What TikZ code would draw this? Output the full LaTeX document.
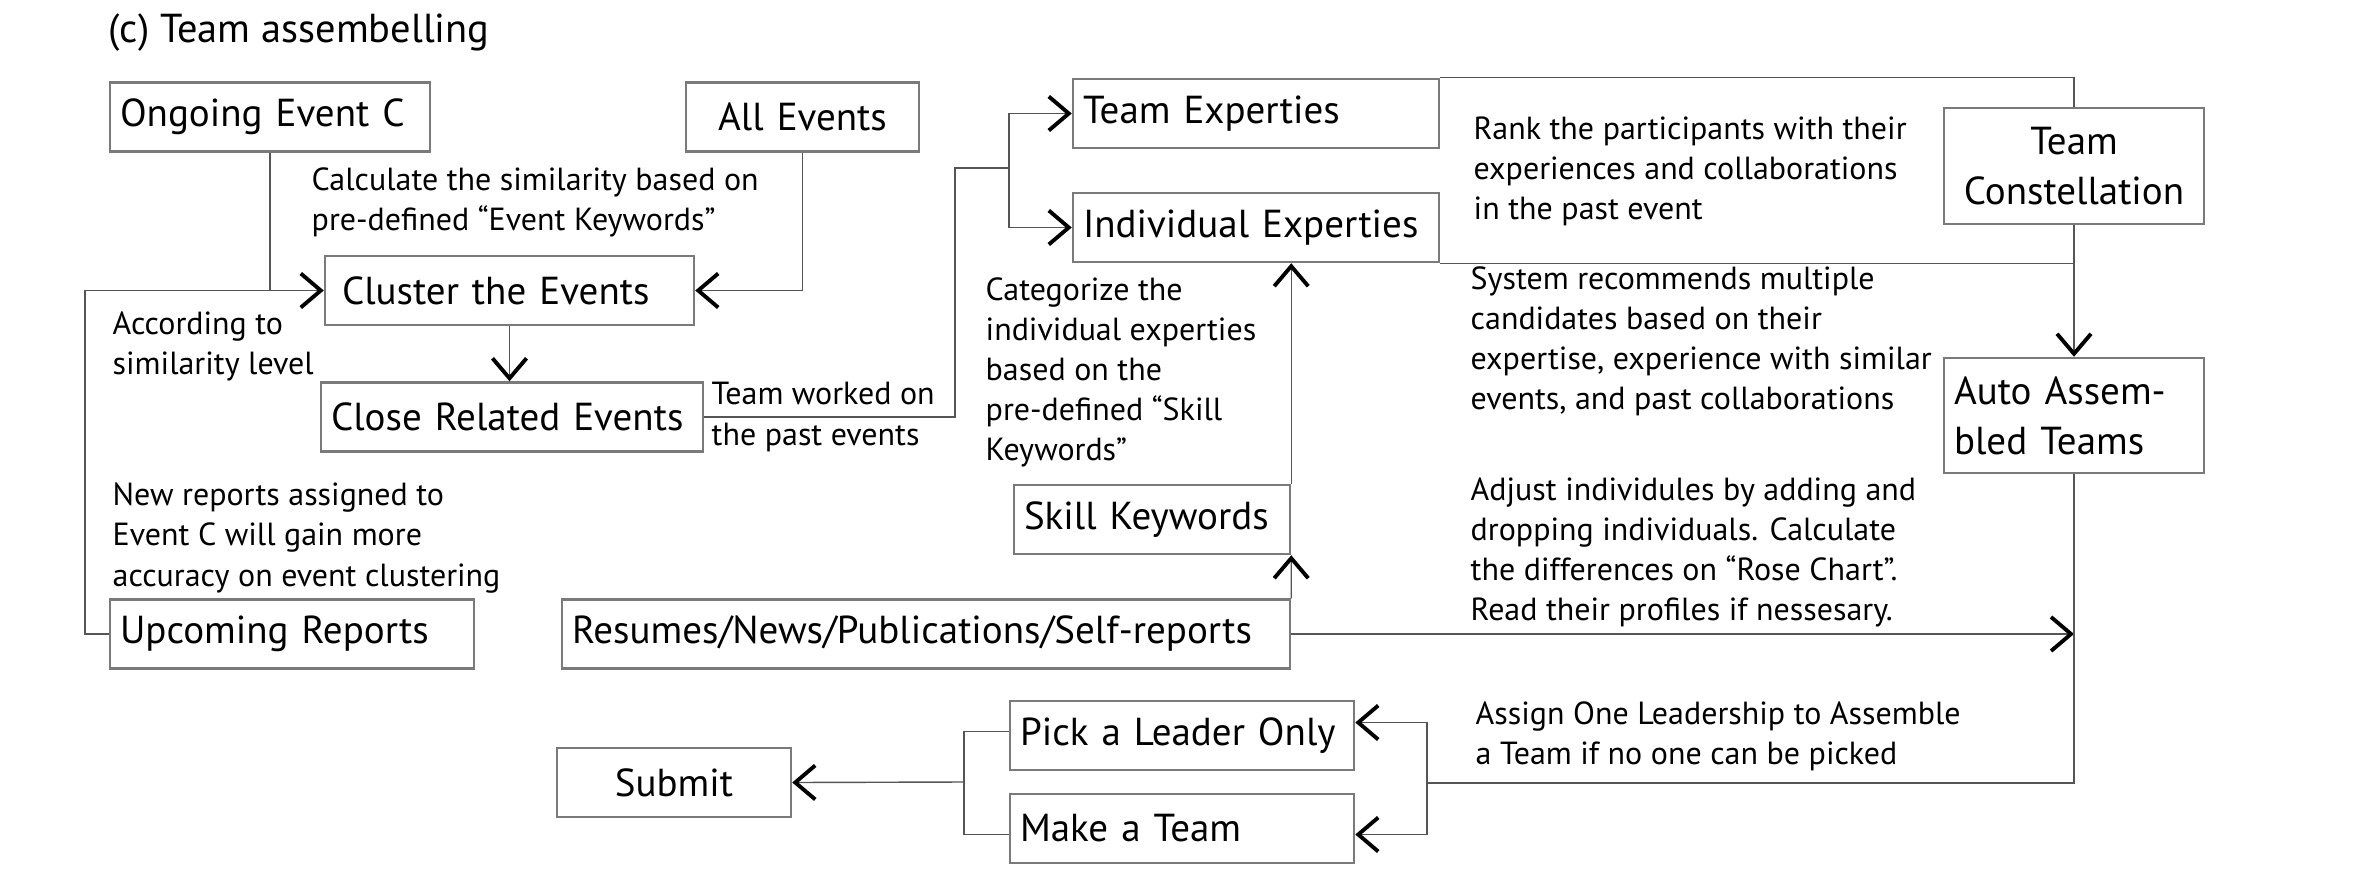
\documentclass[tikz,border=0pt]{standalone}
\usepackage{fontspec}
\newfontfamily\boxfont{PT Sans}
\newfontfamily\notefont{PT Sans}
\definecolor{edge}{HTML}{7A7A7A}
\definecolor{wire}{HTML}{555555}
\usetikzlibrary{calc, positioning, arrows.meta}

\begin{document}
\begin{tikzpicture}[
  blk/.style={draw=edge, line width=0.7pt, fill=white, minimum height=0.69cm,
              inner xsep=0.1cm, align=left, font=\boxfont\fontsize{11.1}{14.2}\selectfont},
  note/.style={anchor=west, align=left, inner sep=0pt,
               font=\notefont\fontsize{9.1}{11.4}\selectfont},
  link/.style={draw=wire, line width=0.4pt},
  tip/.style={-{Straight Barb[length=0.2cm, width=0.34cm, line width=1.1pt, color=black]}},
]
\fill[white] (0,0) rectangle (23.53,-8.86);

\node[anchor=west, inner sep=0pt, font=\boxfont\fontsize{11.5}{14.2}\selectfont] (title) at (1.08,-0.33) {(c) Team assembelling};

\node[blk, text width=3.00cm] (ongoing) at (2.70,-1.17) {Ongoing Event C};
\node[blk, text width=2.13cm, align=center] (allev) at (8.025,-1.17) {All Events};
\node[blk, inner xsep=0.17cm, text width=3.35cm] (cluster) at (5.095,-2.905) {Cluster the Events};
\node[blk, text width=3.62cm] (close) at (5.12,-4.17) {Close Related Events};
\node[blk, text width=3.44cm] (upcoming) at (2.92,-6.34) {Upcoming Reports};
\node[blk, text width=7.08cm] (resumes) at (9.26,-6.34) {Resumes/News/Publications/Self-reports};
\node[blk, text width=2.56cm] (skill) at (11.52,-5.195) {Skill Keywords};
\node[blk, text width=3.46cm] (teamexp) at (12.56,-1.135) {Team Experties};
\node[blk, text width=3.46cm] (indexp) at (12.56,-2.275) {Individual Experties};
\node[blk, text width=2.40cm, align=center, minimum height=1.16cm] (teamcon) at (20.74,-1.66) {Team\\Constellation};
\node[blk, text width=2.40cm, minimum height=1.15cm] (auto) at (20.74,-4.155) {Auto Assem-\\bled Teams};
\node[blk, text width=3.24cm] (leader) at (11.82,-7.355) {Pick a Leader Only};
\node[blk, text width=3.24cm] (maketeam) at (11.82,-8.285) {Make a Team};
\node[blk, text width=2.14cm, align=center] (submit) at (6.74,-7.825) {Submit};

\node[note] (calc) at (3.11,-2.025) {Calculate the similarity based on\\pre-defined “Event Keywords”};
\node[note] (accord) at (1.12,-3.46) {According to\\similarity level};
\node[note] (worked) at (7.11,-4.17) {Team worked on\\the past events};
\node[note] (newrep) at (1.12,-5.38) {New reports assigned to\\Event C will gain more\\accuracy on event clustering};
\node[note] (categ) at (9.85,-3.725) {Categorize the\\individual experties\\based on the\\pre-defined “Skill\\Keywords”};
\node[note] (rank) at (14.73,-1.71) {Rank the participants with their\\experiences and collaborations\\in the past event};
\node[note] (system) at (14.70,-3.41) {System recommends multiple\\candidates based on their\\expertise, experience with similar\\events, and past collaborations};
\node[note] (adjust) at (14.70,-5.52) {Adjust individules by adding and\\dropping individuals. Calculate\\the differences on “Rose Chart”.\\Read their profiles if nessesary.};
\node[note] (assign) at (14.75,-7.36) {Assign One Leadership to Assemble\\a Team if no one can be picked};

\coordinate (loop) at (0.85,-6.34);
\coordinate (bend) at (9.55,-1.68);
\coordinate (split) at (10.09,-1.68);
\coordinate (join) at (14.27,-7.83);
\coordinate (merge) at (9.64,-7.82);

\draw[link, tip] (ongoing.south) |- (cluster.west);
\draw[link, tip] (allev.south) |- (cluster.east);
\draw[link] (upcoming.west) -- (loop) |- (ongoing.south |- cluster.west);
\draw[link, tip] (cluster.south) -- (cluster.south |- close.north);
\draw[link] (close.east) -| (bend) -- (split);
\draw[link, tip] (split) |- (teamexp.west);
\draw[link, tip] (split) |- (indexp.west);
\draw[link] (teamexp.north east) -| (teamcon.north);
\draw[link] (indexp.south east) -- (indexp.south east -| teamcon.south);
\draw[link, tip] (teamcon.south) -- (auto.north);
\draw[link, tip] (skill.north east) -- (skill.north east |- indexp.south);
\draw[link, tip] (resumes.north east) -- (skill.south east);
\draw[link, tip] (resumes.east) -- (resumes.east -| auto.south);
\draw[link] (auto.south) |- (join);
\draw[link, tip] (join) |- ([yshift=1.3mm]leader.east);
\draw[link, tip] (join) |- ([yshift=-0.6mm]maketeam.east);
\draw[link] ([yshift=0.4mm]leader.west) -| (merge);
\draw[link] ([yshift=-0.6mm]maketeam.west) -| (merge);
\draw[link, tip] (merge) -- (submit.east);
\end{tikzpicture}
\end{document}
